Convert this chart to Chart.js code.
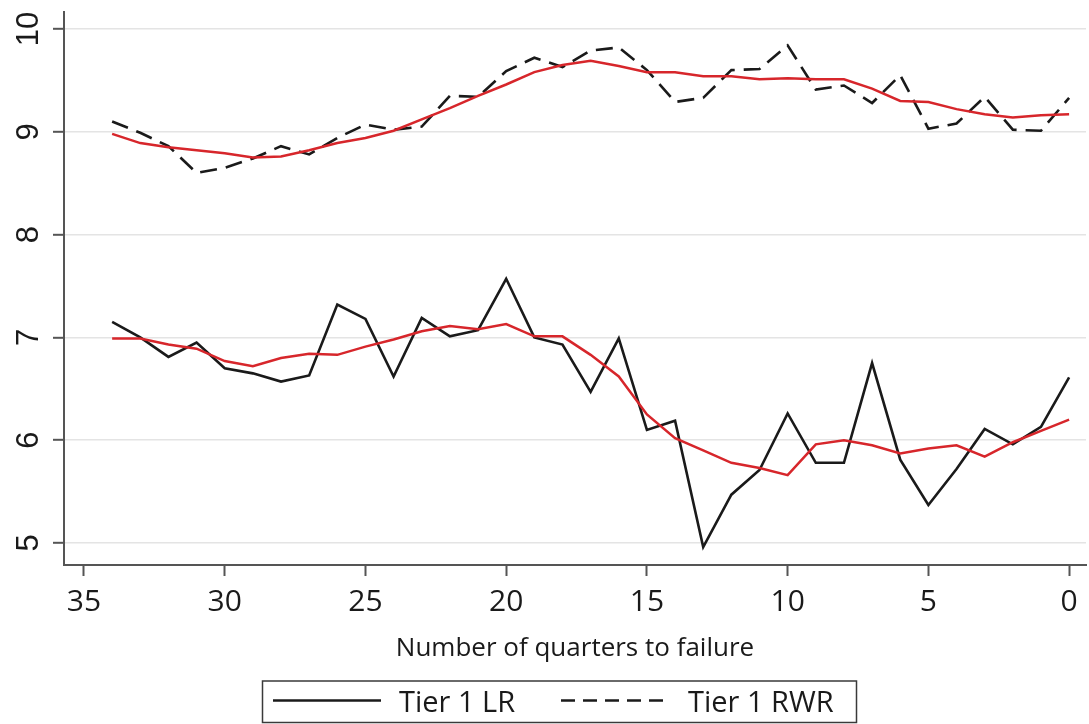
<!DOCTYPE html>
<html>
<head>
<meta charset="utf-8">
<script src="https://cdn.jsdelivr.net/npm/chart.js@4"></script>
<style>
html,body{margin:0;padding:0;background:#fff;}
#wrap{width:1089px;height:724px;position:relative;}
</style>
</head>
<body>
<div id="wrap"><canvas id="c" width="1089" height="724"></canvas></div>
<script>
// Quarters to failure (x values)
const quarters = [34,33,32,31,30,29,28,27,26,25,24,23,22,21,20,19,18,17,16,15,14,13,12,11,10,9,8,7,6,5,4,3,2,1,0];
// Tier 1 leverage ratio (solid black)
const tier1LR = [7.15,7.00,6.81,6.95,6.70,6.65,6.57,6.63,7.32,7.18,6.62,7.19,7.01,7.07,7.57,7.00,6.93,6.47,6.99,6.10,6.19,4.96,5.47,5.71,6.26,5.78,5.78,6.75,5.81,5.37,5.72,6.11,5.96,6.13,6.61];
// Tier 1 risk-weighted ratio (dashed black)
const tier1RWR = [9.10,8.99,8.86,8.60,8.65,8.74,8.86,8.78,8.94,9.07,9.02,9.05,9.35,9.34,9.59,9.72,9.63,9.79,9.82,9.60,9.29,9.33,9.60,9.61,9.84,9.41,9.45,9.28,9.55,9.03,9.08,9.34,9.02,9.01,9.33];
// Smoothed trends (red)
const lrSmooth = [6.99,6.99,6.93,6.89,6.77,6.72,6.80,6.84,6.83,6.91,6.98,7.06,7.11,7.08,7.13,7.01,7.01,6.83,6.62,6.25,6.02,5.90,5.78,5.73,5.66,5.96,6.00,5.95,5.87,5.92,5.95,5.84,5.98,6.09,6.20];
const rwrSmooth = [8.98,8.89,8.85,8.82,8.79,8.75,8.76,8.82,8.89,8.94,9.01,9.12,9.23,9.35,9.46,9.58,9.65,9.69,9.64,9.58,9.58,9.54,9.54,9.51,9.52,9.51,9.51,9.42,9.30,9.29,9.22,9.17,9.14,9.16,9.17];
// Tick labels
const xTicks = [35,30,25,20,15,10,5,0];
const yTicks = [5,6,7,8,9,10];
const xTitle = 'Number of quarters to failure';
const legendLabels = ['Tier 1 LR','Tier 1 RWR'];

const pts = arr => quarters.map((q,i)=>({x:q,y:arr[i]}));
const RED = '#d7262b';
const INK = '#1a1a1a';
const AXIS = '#555555';

const yLabelPlugin = {
  id:'yLabels',
  afterDraw(chart){
    const ctx = chart.ctx, y = chart.scales.y;
    ctx.save();
    ctx.fillStyle = INK;
    ctx.font = '31px "Liberation Sans", Arial, sans-serif';
    ctx.textAlign = 'center';
    ctx.textBaseline = 'alphabetic';
    yTicks.forEach(v=>{
      const py = y.getPixelForValue(v);
      ctx.save();
      ctx.translate(37.5, py);
      ctx.rotate(-Math.PI/2);
      ctx.fillText(String(v), 0, 0);
      ctx.restore();
    });
    ctx.restore();
  }
};

const legendPlugin = {
  id:'boxLegend',
  afterDraw(chart){
    const ctx = chart.ctx;
    ctx.save();
    ctx.strokeStyle = '#3a3a3a';
    ctx.lineWidth = 1.5;
    ctx.strokeRect(262.5, 681, 594, 41.5);
    ctx.strokeStyle = INK;
    ctx.lineWidth = 2.5;
    ctx.beginPath(); ctx.moveTo(273,700.5); ctx.lineTo(381,700.5); ctx.stroke();
    ctx.setLineDash([14,8]);
    ctx.beginPath(); ctx.moveTo(561,700.5); ctx.lineTo(665,700.5); ctx.stroke();
    ctx.setLineDash([]);
    ctx.fillStyle = INK;
    ctx.font = '29px "Open Sans", sans-serif';
    ctx.textBaseline = 'alphabetic';
    ctx.textAlign = 'left';
    ctx.fillText(legendLabels[0], 399, 712);
    ctx.fillText(legendLabels[1], 688, 712);
    ctx.restore();
  }
};

new Chart(document.getElementById('c'), {
  type:'line',
  data:{
    datasets:[
      {label:'LR trend', data:pts(lrSmooth), borderColor:RED, borderWidth:2.5, pointRadius:0, tension:0, order:0},
      {label:'RWR trend', data:pts(rwrSmooth), borderColor:RED, borderWidth:2.5, pointRadius:0, tension:0, order:0},
      {label:legendLabels[0], data:pts(tier1LR), borderColor:INK, borderWidth:2.6, pointRadius:0, tension:0, order:1},
      {label:legendLabels[1], data:pts(tier1RWR), borderColor:INK, borderWidth:2.6, borderDash:[17,9], pointRadius:0, tension:0, order:1}
    ]
  },
  options:{
    responsive:false,
    animation:false,
    devicePixelRatio:1,
    layout:{padding:{top:12,right:3,left:0,bottom:52}},
    plugins:{legend:{display:false}, tooltip:{enabled:false}},
    scales:{
      x:{
        type:'linear', reverse:true, min:-0.6, max:35.71,
        afterBuildTicks(s){ s.ticks = xTicks.map(v=>({value:v})); },
        afterFit(s){ s.height = 107; },
        ticks:{font:{family:'"Open Sans", sans-serif', size:30}, color:INK, padding:8, maxRotation:0, autoSkip:false},
        grid:{drawOnChartArea:false, drawTicks:true, tickLength:11, tickColor:AXIS, tickWidth:2},
        border:{display:true, color:AXIS, width:2},
        title:{display:true, text:xTitle, color:INK, font:{family:'"Open Sans", sans-serif', size:26}, padding:{top:0,bottom:8}}
      },
      y:{
        type:'linear', min:4.786, max:10.165,
        afterBuildTicks(s){ s.ticks = yTicks.map(v=>({value:v})); },
        afterFit(s){ s.width = 64; },
        ticks:{display:false},
        grid:{color:'#e4e4e4', lineWidth:1.6, drawTicks:true, tickLength:11, tickColor:AXIS, tickWidth:2},
        border:{display:true, color:AXIS, width:2}
      }
    }
  },
  plugins:[yLabelPlugin, legendPlugin]
});
</script>
</body>
</html>
